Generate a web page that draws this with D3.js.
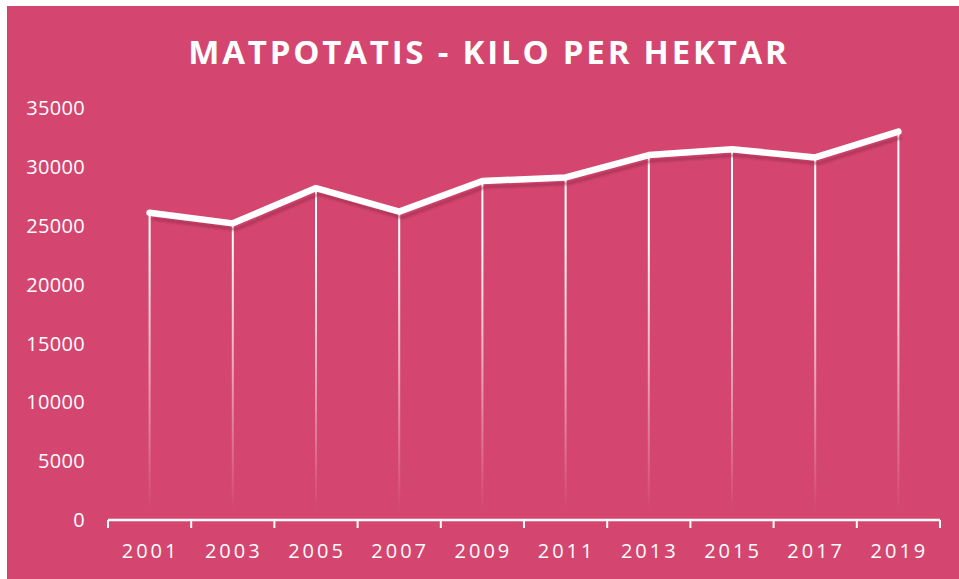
<!DOCTYPE html>
<html>
<head>
<meta charset="utf-8">
<script src="https://cdn.jsdelivr.net/npm/d3@7"></script>
<style>
  body { margin: 0; background: #fff; }
  text { font-family: "Open Sans", sans-serif; fill: #fff; }
</style>
</head>
<body>
<svg id="chart" width="959" height="579"></svg>
<script>
// chart data
const title = 'MATPOTATIS - KILO PER HEKTAR';
const years = ['2001', '2003', '2005', '2007', '2009', '2011', '2013', '2015', '2017', '2019'];
const yields = [26100, 25200, 28200, 26200, 28800, 29100, 31000, 31500, 30800, 33000];
const yTicks = [0, 5000, 10000, 15000, 20000, 25000, 30000, 35000];

const svg = d3.select('#chart');
const bg = '#D4466F';

// pink panel (white strip left and top)
svg.append('rect')
  .attr('x', 7).attr('y', 6)
  .attr('width', 952).attr('height', 573)
  .attr('fill', bg);

const x = d3.scaleBand().domain(years).range([108, 940]).padding(0);
const y = d3.scaleLinear().domain([0, 35000]).range([520, 108]);

const defs = svg.append('defs');

// drop lines fade out toward the bottom
const grad = defs.append('linearGradient')
  .attr('id', 'dropFade')
  .attr('gradientUnits', 'userSpaceOnUse')
  .attr('x1', 0).attr('x2', 0)
  .attr('y1', 240).attr('y2', 510);
grad.append('stop').attr('offset', '0%').attr('stop-color', '#fff').attr('stop-opacity', 1);
grad.append('stop').attr('offset', '100%').attr('stop-color', '#fff').attr('stop-opacity', 0);

const blur = defs.append('filter').attr('id', 'soft')
  .attr('x', '-5%').attr('y', '-20%').attr('width', '110%').attr('height', '140%');
blur.append('feGaussianBlur').attr('stdDeviation', 0.9);

// title
svg.append('text')
  .attr('x', 489)
  .attr('y', 64)
  .attr('text-anchor', 'middle')
  .style('font-size', '33px')
  .style('font-weight', 'bold')
  .style('letter-spacing', '2.8px')
  .text(title);

// y axis labels (no axis line)
svg.append('g').selectAll('text')
  .data(yTicks)
  .join('text')
  .attr('x', 85)
  .attr('y', d => y(d))
  .attr('dy', '0.36em')
  .attr('text-anchor', 'end')
  .style('font-size', '20px')
  .style('letter-spacing', '0.3px')
  .text(d => d);

// x axis
const xAxis = svg.append('g').attr('transform', 'translate(0,520)');
xAxis.append('line')
  .attr('x1', 108).attr('x2', 940)
  .attr('stroke', '#fff').attr('stroke-width', 2.5);
const tickPos = years.map(d => x(d)).concat([x.range()[1]]);
xAxis.selectAll('.tick')
  .data(tickPos)
  .join('line')
  .attr('class', 'tick')
  .attr('x1', d => d).attr('x2', d => d)
  .attr('y1', 0).attr('y2', 8)
  .attr('stroke', '#fff').attr('stroke-width', 2);
xAxis.selectAll('text')
  .data(years)
  .join('text')
  .attr('x', d => x(d) + x.bandwidth() / 2 + 1)
  .attr('y', 38)
  .attr('text-anchor', 'middle')
  .style('font-size', '20px')
  .style('letter-spacing', '3px')
  .text(d => d);

const cx = (d, i) => x(years[i]) + x.bandwidth() / 2;

// drop lines from each point to the axis
svg.append('g').selectAll('rect')
  .data(yields)
  .join('rect')
  .attr('x', (d, i) => cx(d, i) - 1)
  .attr('y', d => y(d))
  .attr('width', 2)
  .attr('height', d => 518 - y(d))
  .attr('fill', 'url(#dropFade)');

const line = d3.line()
  .x((d, i) => cx(d, i))
  .y(d => y(d));

// shadow under the main line
svg.append('path')
  .datum(yields)
  .attr('d', line)
  .attr('transform', 'translate(3,6)')
  .attr('fill', 'none')
  .attr('stroke', '#8E2549')
  .attr('stroke-opacity', 0.55)
  .attr('stroke-width', 3)
  .attr('filter', 'url(#soft)');

// main line
svg.append('path')
  .datum(yields)
  .attr('d', line)
  .attr('fill', 'none')
  .attr('stroke', '#fff')
  .attr('stroke-width', 6.5)
  .attr('stroke-linejoin', 'round')
  .attr('stroke-linecap', 'round');
</script>
</body>
</html>
